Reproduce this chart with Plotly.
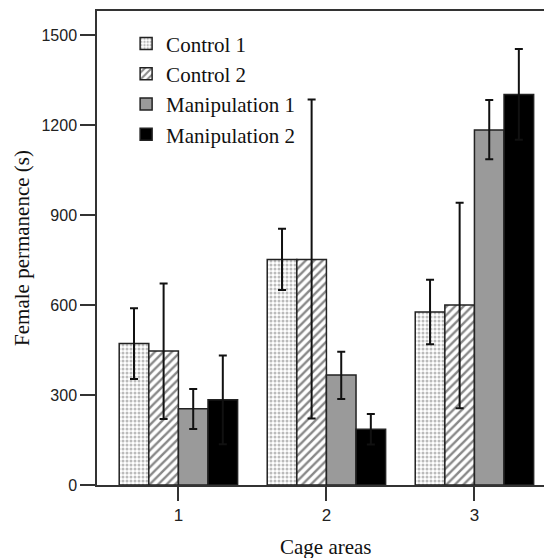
import plotly.graph_objects as go

categories = [1, 2, 3]
series_names = ["Control 1", "Control 2", "Manipulation 1", "Manipulation 2"]
means = {
    "Control 1": [472, 752, 577],
    "Control 2": [447, 752, 600],
    "Manipulation 1": [254, 367, 1183],
    "Manipulation 2": [284, 186, 1302],
}
err_upper = {
    "Control 1": [117, 102, 107],
    "Control 2": [225, 533, 341],
    "Manipulation 1": [66, 77, 100],
    "Manipulation 2": [148, 51, 151],
}
err_lower = {
    "Control 1": [119, 102, 108],
    "Control 2": [227, 530, 344],
    "Manipulation 1": [67, 80, 97],
    "Manipulation 2": [148, 51, 151],
}
y_ticks = [0, 300, 600, 900, 1200, 1500]

styles = {
    "Control 1": dict(color="white", pattern=dict(shape=".", size=4, solidity=0.45, fgcolor="#777", bgcolor="white")),
    "Control 2": dict(color="white", pattern=dict(shape="/", size=6, solidity=0.4, fgcolor="#111", bgcolor="white")),
    "Manipulation 1": dict(color="#9a9a9a"),
    "Manipulation 2": dict(color="#000000"),
}

SERIF = "Liberation Serif"
SANS = "Liberation Sans"

fig = go.Figure()
for name in series_names:
    fig.add_trace(go.Bar(
        x=categories, y=means[name], name=name, legendgroup=name,
        marker=dict(line=dict(color="#222", width=1.5), **styles[name]),
        error_y=dict(type="data", symmetric=False, array=err_upper[name],
                     arrayminus=err_lower[name], color="#111", thickness=2, width=4),
    ))

fig.update_layout(
    width=544, height=550,
    margin=dict(l=89, r=0, t=3, b=73),
    plot_bgcolor="white", paper_bgcolor="white",
    barmode="group", bargap=0.2, bargroupgap=0,
    showlegend=True,
    legend=dict(x=0.064, y=0.974, xanchor="left", yanchor="top",
                font=dict(family=SERIF, size=21, color="#111"),
                bgcolor="rgba(0,0,0,0)", itemwidth=30, tracegroupgap=0),
    font=dict(family=SANS, color="#222"),
)
fig.update_xaxes(
    range=[0.45, 3.524], tickvals=categories, ticktext=[str(c) for c in categories],
    ticks="outside", ticklen=14, tickwidth=1.5, tickcolor="#333",
    showline=True, linecolor="#333", linewidth=1.5, mirror=True,
    showgrid=False, zeroline=False,
    tickfont=dict(family=SANS, size=17, color="#222"),
)
fig.update_yaxes(
    range=[0, 1580], tickvals=y_ticks,
    ticks="outside", ticklen=15, tickwidth=1.5, tickcolor="#333",
    showline=True, linecolor="#333", linewidth=1.5,
    showgrid=False, zeroline=False,
    tickfont=dict(family=SANS, size=16, color="#222"),
)
fig.add_annotation(x=-0.165, y=0.5, xref="paper", yref="paper", text="Female permanence (s)",
                   showarrow=False, textangle=-90, xanchor="center", yanchor="middle",
                   font=dict(family=SERIF, size=21, color="#111"))
fig.add_annotation(x=2, y=-0.131, xref="x", yref="paper", text="Cage areas",
                   showarrow=False, yanchor="middle",
                   font=dict(family=SERIF, size=21, color="#111"))

fig.write_html("out.html")
